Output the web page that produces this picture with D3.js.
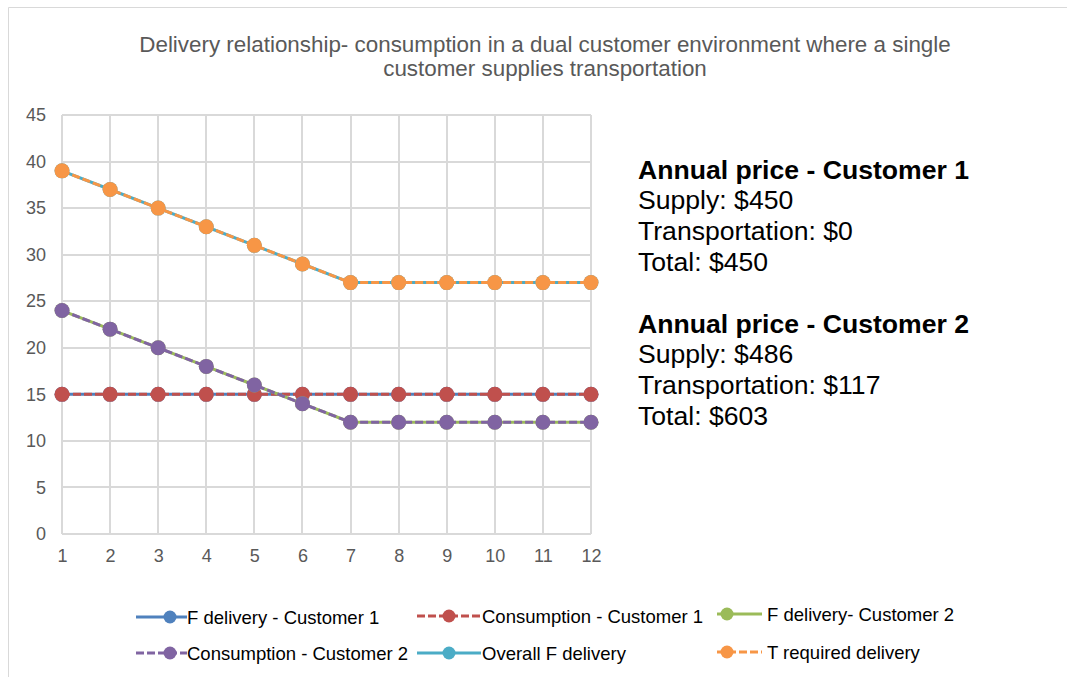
<!DOCTYPE html>
<html>
<head>
<meta charset="utf-8">
<script src="https://cdn.jsdelivr.net/npm/d3@7"></script>
<style>
  html, body { margin: 0; padding: 0; background: #fff; }
  svg { display: block; font-family: "Liberation Sans", Arial, sans-serif; }
</style>
</head>
<body>
<svg id="chart" width="1067" height="677"></svg>
<script>
// Months on the x axis
const months = [1, 2, 3, 4, 5, 6, 7, 8, 9, 10, 11, 12];

// Series values (units per month)
const fDeliveryC1 = [15, 15, 15, 15, 15, 15, 15, 15, 15, 15, 15, 15];
const consumptionC1 = [15, 15, 15, 15, 15, 15, 15, 15, 15, 15, 15, 15];
const fDeliveryC2 = [24, 22, 20, 18, 16, 14, 12, 12, 12, 12, 12, 12];
const consumptionC2 = [24, 22, 20, 18, 16, 14, 12, 12, 12, 12, 12, 12];
const overallFDelivery = [39, 37, 35, 33, 31, 29, 27, 27, 27, 27, 27, 27];
const tRequiredDelivery = [39, 37, 35, 33, 31, 29, 27, 27, 27, 27, 27, 27];

const yTicks = [0, 5, 10, 15, 20, 25, 30, 35, 40, 45];

const titleLines = [
  "Delivery relationship- consumption in a dual customer environment where a single",
  "customer supplies transportation"
];

const priceBlocks = [
  { heading: "Annual price - Customer 1", lines: ["Supply: $450", "Transportation: $0", "Total: $450"] },
  { heading: "Annual price - Customer 2", lines: ["Supply: $486", "Transportation: $117", "Total: $603"] }
];

const series = [
  { name: "F delivery - Customer 1", values: fDeliveryC1, color: "#4f81bd", dash: null },
  { name: "Consumption - Customer 1", values: consumptionC1, color: "#c0504d", dash: "8,3" },
  { name: "F delivery- Customer 2", values: fDeliveryC2, color: "#9bbb59", dash: null },
  { name: "Consumption - Customer 2", values: consumptionC2, color: "#8064a2", dash: "8,3" },
  { name: "Overall F delivery", values: overallFDelivery, color: "#4bacc6", dash: null },
  { name: "T required delivery", values: tRequiredDelivery, color: "#f79646", dash: "8,3" }
];

const svg = d3.select("#chart");

// Outer chart frame (runs off the right and bottom edges)
svg.append("path")
  .attr("d", "M8.5,677 L8.5,7.5 L1067,7.5")
  .attr("fill", "none")
  .attr("stroke", "#d9d9d9")
  .attr("stroke-width", 1);

const plot = { left: 62, right: 591, top: 115, bottom: 534 };

const x = d3.scaleLinear().domain([1, 12]).range([plot.left, plot.right]);
const y = d3.scaleLinear().domain([0, 45]).range([plot.bottom, plot.top]);

// Title
svg.append("g")
  .selectAll("text")
  .data(titleLines)
  .join("text")
  .attr("x", 545)
  .attr("y", (d, i) => 52 + i * 24)
  .attr("text-anchor", "middle")
  .attr("font-size", 22.4)
  .attr("fill", "#595959")
  .text(d => d);

// Gridlines
const grid = svg.append("g");
grid.selectAll("line.h")
  .data(yTicks)
  .join("line")
  .attr("class", "h")
  .attr("x1", plot.left).attr("x2", plot.right)
  .attr("y1", d => Math.round(y(d))).attr("y2", d => Math.round(y(d)))
  .attr("stroke", "#d9d9d9").attr("stroke-width", 2);
grid.selectAll("line.v")
  .data(months)
  .join("line")
  .attr("class", "v")
  .attr("x1", d => Math.round(x(d))).attr("x2", d => Math.round(x(d)))
  .attr("y1", plot.top).attr("y2", plot.bottom)
  .attr("stroke", "#d9d9d9").attr("stroke-width", 2);

// Axes (labels only; rules come from the grid)
const yAxis = svg.append("g")
  .attr("transform", `translate(${plot.left},0)`)
  .call(d3.axisLeft(y).tickValues(yTicks).tickSize(0).tickPadding(16));
const xAxis = svg.append("g")
  .attr("transform", `translate(0,${plot.bottom})`)
  .call(d3.axisBottom(x).tickValues(months).tickFormat(d3.format("d")).tickSize(0).tickPadding(15));
[yAxis, xAxis].forEach(a => {
  a.select(".domain").remove();
  a.attr("font-family", "Liberation Sans, Arial, sans-serif").attr("font-size", 18);
  a.selectAll("text").attr("fill", "#595959");
});

// Series lines and markers
const line = d3.line().x((d, i) => x(months[i])).y(d => y(d));
series.forEach(s => {
  const g = svg.append("g");
  g.append("path")
    .datum(s.values)
    .attr("d", line)
    .attr("fill", "none")
    .attr("stroke", s.color)
    .attr("stroke-width", 3)
    .attr("stroke-dasharray", s.dash)
    .attr("stroke-linejoin", "round");
  g.selectAll("circle")
    .data(s.values)
    .join("circle")
    .attr("cx", (d, i) => x(months[i]))
    .attr("cy", d => y(d))
    .attr("r", 7.5)
    .attr("fill", s.color);
});

// Annual price annotations
const notes = svg.append("g").attr("fill", "#000");
priceBlocks.forEach((b, bi) => {
  const top = 178.5 + bi * 154;
  notes.append("text")
    .attr("x", 638).attr("y", top)
    .attr("font-size", 26.6).attr("font-weight", "bold")
    .text(b.heading);
  b.lines.forEach((t, li) => {
    notes.append("text")
      .attr("x", 638).attr("y", top + 30.7 * (li + 1))
      .attr("font-size", 26.6)
      .text(t);
  });
});

// Legend
const legendPos = [
  { x0: 136, mx: 170, x1: 187, y: 617, tx: 187 },
  { x0: 417, mx: 449, x1: 481, y: 616, tx: 482 },
  { x0: 717, mx: 727, x1: 762, y: 614, tx: 767 },
  { x0: 136, mx: 170, x1: 187, y: 653, tx: 187 },
  { x0: 417, mx: 449, x1: 481, y: 653, tx: 482 },
  { x0: 717, mx: 727, x1: 762, y: 652, tx: 767 }
];
const legend = svg.append("g");
series.forEach((s, i) => {
  const p = legendPos[i];
  const g = legend.append("g");
  g.append("line")
    .attr("x1", p.x0).attr("x2", p.x1)
    .attr("y1", p.y).attr("y2", p.y)
    .attr("stroke", s.color).attr("stroke-width", 3)
    .attr("stroke-dasharray", s.dash);
  g.append("circle")
    .attr("cx", p.mx).attr("cy", p.y).attr("r", 6.5)
    .attr("fill", s.color);
  g.append("text")
    .attr("x", p.tx).attr("y", p.y + 6.5)
    .attr("font-size", 18.5)
    .attr("fill", "#000")
    .text(s.name);
});
</script>
</body>
</html>
